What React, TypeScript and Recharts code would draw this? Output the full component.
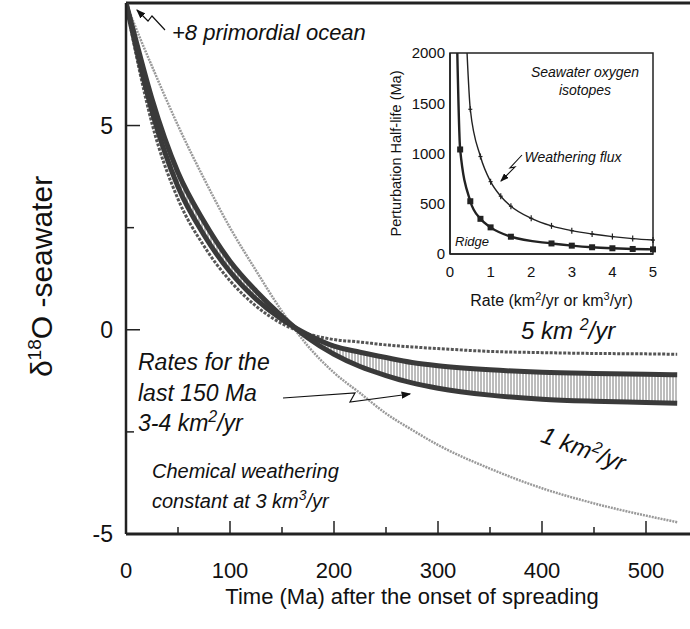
import { Area, ComposedChart, Line, ReferenceArea, ReferenceLine, XAxis, YAxis } from "recharts";

const FONT = "'Liberation Sans', Arial, sans-serif";

// main panel: delta18O of seawater vs time, one curve per spreading rate
const timeMa = [0, 12.5, 25, 50, 75, 100, 125, 150, 175, 200, 225, 250, 275, 300, 350, 400, 450, 500, 530];
const rate1Km = [8, 7.2, 6.45, 5.0, 3.7, 2.5, 1.45, 0.45, -0.4, -1.05, -1.55, -2.05, -2.45, -2.82, -3.4, -3.88, -4.25, -4.55, -4.71];
const rate3Km = [8, 6.8, 5.65, 3.85, 2.65, 1.68, 0.95, 0.33, -0.2, -0.6, -0.9, -1.12, -1.3, -1.43, -1.6, -1.7, -1.75, -1.78, -1.8];
const rate4Km = [8, 6.6, 5.35, 3.5, 2.32, 1.42, 0.75, 0.25, -0.12, -0.4, -0.55, -0.68, -0.8, -0.88, -0.98, -1.04, -1.07, -1.09, -1.1];
const rate5Km = [8, 6.4, 5.05, 3.2, 2.05, 1.2, 0.58, 0.15, -0.1, -0.24, -0.3, -0.37, -0.42, -0.46, -0.53, -0.56, -0.58, -0.59, -0.6];

const mainXTicks = [0, 50, 100, 150, 200, 250, 300, 350, 400, 450, 500];
const mainYTicks = [-5, -2.5, 0, 2.5, 5];

// inset: perturbation half-life vs rate
const ridgeRate = [0.18, 0.25, 0.5, 0.75, 1, 1.5, 2.5, 3, 3.5, 4, 4.5, 5];
const ridgeHalfLife = [2000, 1040, 525, 350, 265, 172, 105, 83, 67, 57, 50, 46];
const weatherRate = [0.42, 0.5, 0.75, 1, 1.25, 1.5, 2, 2.5, 3, 3.5, 4, 4.5, 5];
const weatherHalfLife = [2000, 1440, 970, 720, 575, 475, 355, 280, 232, 199, 173, 153, 139];

const insetXTicks = [0, 1, 2, 3, 4, 5];
const insetYTicks = [0, 500, 1000, 1500, 2000];

const mainData = timeMa.map((t, i) => ({
  t,
  r1: rate1Km[i],
  r3: rate3Km[i],
  r4: rate4Km[i],
  r5: rate5Km[i],
  band: [rate3Km[i], rate4Km[i]],
}));

const ridgeData = ridgeRate.map((rate, i) => ({ rate, half: ridgeHalfLife[i] }));
const weatherData = weatherRate.map((rate, i) => ({ rate, half: weatherHalfLife[i] }));

function MainXTick(props: any) {
  const { x, y, payload } = props;
  const major = payload.value % 100 === 0;
  return (
    <g>
      <line x1={x} x2={x} y1={y} y2={y - (major ? 13 : 7)} stroke="#222" strokeWidth={1.5} />
      {major && (
        <text x={x} y={y + 44} textAnchor="middle" fontSize={22} fill="#111" fontFamily={FONT}>
          {payload.value}
        </text>
      )}
    </g>
  );
}

function MainYTick(props: any) {
  const { x, y, payload } = props;
  const major = payload.value % 5 === 0;
  return (
    <g>
      <line x1={x} x2={x + (major ? 14 : 8)} y1={y} y2={y} stroke="#222" strokeWidth={1.5} />
      {major && (
        <text x={x - 13} y={y + 8} textAnchor="end" fontSize={23} fill="#111" fontFamily={FONT}>
          {payload.value}
        </text>
      )}
    </g>
  );
}

function MainYTitle(props: any) {
  const vb = props.viewBox;
  const cx = vb.x + 52;
  const cy = vb.y + vb.height / 2 + 8;
  return (
    <text x={cx} y={cy} transform={`rotate(-90 ${cx} ${cy})`} textAnchor="middle" fontSize={30} fill="#111" fontFamily={FONT}>
      δ<tspan dy={-11} fontSize={19}>18</tspan>
      <tspan dy={11}>O -seawater</tspan>
    </text>
  );
}

function InsetXTitle(props: any) {
  const vb = props.viewBox;
  const cx = vb.x + vb.width / 2;
  const cy = vb.y + 52;
  return (
    <text x={cx} y={cy} textAnchor="middle" fontSize={16} fill="#111" fontFamily={FONT}>
      Rate (km<tspan dy={-6} fontSize={11}>2</tspan>
      <tspan dy={6}>/yr or km</tspan>
      <tspan dy={-6} fontSize={11}>3</tspan>
      <tspan dy={6}>/yr)</tspan>
    </text>
  );
}

function InsetYTitle(props: any) {
  const vb = props.viewBox;
  const cx = vb.x + 21;
  const cy = vb.y + vb.height / 2;
  return (
    <text x={cx} y={cy} transform={`rotate(-90 ${cx} ${cy})`} textAnchor="middle" fontSize={14.5} fill="#111" fontFamily={FONT}>
      Perturbation Half-life (Ma)
    </text>
  );
}

function RidgeDot(props: any) {
  const { cx, cy, payload, index } = props;
  if (payload.half >= 2000) return <g key={`rd${index}`} />;
  return <rect key={`rd${index}`} x={cx - 3} y={cy - 3} width={6} height={6} fill="#222" />;
}

function WeatherDot(props: any) {
  const { cx, cy, payload, index } = props;
  if (payload.half >= 2000) return <g key={`wd${index}`} />;
  return (
    <g key={`wd${index}`}>
      <line x1={cx} x2={cx} y1={cy - 3} y2={cy + 3} stroke="#222" strokeWidth={1.2} />
      <line x1={cx - 2} x2={cx + 2} y1={cy} y2={cy} stroke="#222" strokeWidth={1.2} />
    </g>
  );
}

function Annotations() {
  const t = { fontFamily: FONT, fill: "#111", fontStyle: "italic" as const };
  return (
    <svg width={690} height={629} style={{ position: "absolute", left: 0, top: 0, pointerEvents: "none" }}>
      <defs>
        <marker id="ah" markerWidth={8} markerHeight={6} refX={7} refY={3} orient="auto">
          <path d="M0,0 L8,3 L0,6 z" fill="#111" />
        </marker>
      </defs>
      <text x={172} y={40} fontSize={22} {...t}>+8 primordial ocean</text>
      <polyline points="165,30 152,16 148,21 137,10" fill="none" stroke="#111" strokeWidth={1.2} markerEnd="url(#ah)" />

      <text x={585} y={77} textAnchor="middle" fontSize={14} {...t}>Seawater oxygen</text>
      <text x={585} y={95} textAnchor="middle" fontSize={14} {...t}>isotopes</text>
      <text x={573} y={162} textAnchor="middle" fontSize={14} {...t}>Weathering flux</text>
      <polyline points="522,155 510,168 515,167 501,181" fill="none" stroke="#111" strokeWidth={1.1} markerEnd="url(#ah)" />
      <text x={455} y={246} fontSize={13} {...t}>Ridge</text>

      <text x={521} y={339} fontSize={24} {...t}>
        5 km <tspan dy={-9} fontSize={16}>2</tspan>
        <tspan dy={9}>/yr</tspan>
      </text>
      <text x={583} y={457} textAnchor="middle" fontSize={24} transform="rotate(20 583 450)" {...t}>
        1 km<tspan dy={-9} fontSize={16}>2</tspan>
        <tspan dy={9}>/yr</tspan>
      </text>

      <text x={138} y={370} fontSize={23} {...t}>Rates for the</text>
      <text x={138} y={401} fontSize={23} {...t}>last 150 Ma</text>
      <text x={138} y={431} fontSize={23} {...t}>
        3-4 km<tspan dy={-9} fontSize={16}>2</tspan>
        <tspan dy={9}>/yr</tspan>
      </text>
      <polyline points="283,398 355,393 350,402 410,394" fill="none" stroke="#111" strokeWidth={1.2} markerEnd="url(#ah)" />

      <text x={152} y={478} fontSize={20} {...t}>Chemical weathering</text>
      <text x={152} y={508} fontSize={20} {...t}>
        constant at 3 km<tspan dy={-8} fontSize={14}>3</tspan>
        <tspan dy={8}>/yr</tspan>
      </text>
    </svg>
  );
}

export default function App() {
  return (
    <div style={{ position: "fixed", left: 0, top: 0, width: 690, height: 629, overflow: "hidden", background: "#fff" }}>
      <ComposedChart width={700} height={629} data={mainData} margin={{ top: 3, right: 2, bottom: 0, left: 0 }}>
        <defs>
          <pattern id="hatch" width={3} height={6} patternUnits="userSpaceOnUse">
            <line x1={1} y1={0} x2={1} y2={6} stroke="#7a7a7a" strokeWidth={1} />
          </pattern>
        </defs>
        <XAxis
          dataKey="t"
          type="number"
          domain={[0, 550]}
          ticks={mainXTicks}
          interval={0}
          allowDataOverflow
          height={95}
          tickSize={0}
          tickMargin={0}
          tick={<MainXTick />}
          axisLine={{ stroke: "#222", strokeWidth: 3 }}
          label={{ value: "Time (Ma) after the onset of spreading", position: "insideBottom", offset: 25, fontSize: 22, fill: "#111", fontFamily: FONT }}
        />
        <YAxis
          type="number"
          domain={[-5, 8]}
          ticks={mainYTicks}
          interval={0}
          allowDataOverflow
          width={126}
          tickSize={0}
          tickMargin={0}
          tick={<MainYTick />}
          axisLine={{ stroke: "#222", strokeWidth: 2.5 }}
          label={MainYTitle}
        />
        <ReferenceLine y={8} stroke="#222" strokeWidth={3} />
        <Area dataKey="band" type="monotone" stroke="none" fill="url(#hatch)" fillOpacity={1} isAnimationActive={false} />
        <Line dataKey="r1" type="monotone" stroke="#9a9a9a" strokeWidth={2.5} strokeDasharray="2 1" dot={false} isAnimationActive={false} />
        <Line dataKey="r5" type="monotone" stroke="#555" strokeWidth={3} strokeDasharray="3 1.5" dot={false} isAnimationActive={false} />
        <Line dataKey="r4" type="monotone" stroke="#3a3a3a" strokeWidth={5} dot={false} isAnimationActive={false} />
        <Line dataKey="r3" type="monotone" stroke="#3a3a3a" strokeWidth={5} dot={false} isAnimationActive={false} />
      </ComposedChart>

      <div style={{ position: "absolute", left: 380, top: 40 }}>
        <ComposedChart width={290} height={280} margin={{ top: 13, right: 17, bottom: 0, left: 0 }}>
          <XAxis
            dataKey="rate"
            type="number"
            domain={[0, 5]}
            ticks={insetXTicks}
            interval={0}
            height={66}
            tickLine={false}
            tickSize={0}
            tickMargin={12}
            tick={{ fontSize: 15, fill: "#111", fontFamily: FONT }}
            axisLine={{ stroke: "#222", strokeWidth: 1.5 }}
            label={InsetXTitle}
          />
          <YAxis
            dataKey="half"
            type="number"
            domain={[0, 2000]}
            ticks={insetYTicks}
            interval={0}
            width={70}
            tickLine={false}
            tickSize={0}
            tickMargin={5}
            tick={{ fontSize: 15, fill: "#111", fontFamily: FONT }}
            axisLine={{ stroke: "#222", strokeWidth: 1.5 }}
            label={InsetYTitle}
          />
          <ReferenceArea x1={0} x2={5} y1={0} y2={2000} fill="none" fillOpacity={0} stroke="#222" strokeWidth={1.5} />
          <Line data={weatherData} dataKey="half" type="monotone" stroke="#222" strokeWidth={1.4} dot={<WeatherDot />} isAnimationActive={false} />
          <Line data={ridgeData} dataKey="half" type="monotone" stroke="#222" strokeWidth={2.4} dot={<RidgeDot />} isAnimationActive={false} />
        </ComposedChart>
      </div>

      <Annotations />
    </div>
  );
}
